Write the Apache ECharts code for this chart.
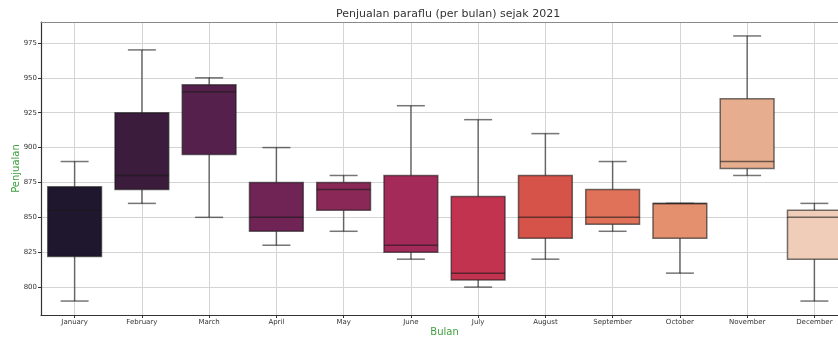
<!DOCTYPE html>
<html>
<head>
<meta charset="utf-8">
<script src="https://cdn.jsdelivr.net/npm/echarts@6/dist/echarts.min.js"></script>
<style>
html,body{margin:0;padding:0;background:#fff;}
#chart{width:838px;height:337px;}
</style>
</head>
<body>
<div id="chart"></div>
<script>
const months = ['January','February','March','April','May','June','July','August','September','October','November','December'];
const lowWhisker = [790, 860, 850, 830, 840, 820, 800, 820, 840, 810, 880, 790];
const q1Values   = [822, 870, 895, 840, 855, 825, 805, 835, 845, 835, 885, 820];
const medians    = [855, 880, 940, 850, 870, 830, 810, 850, 850, 860, 890, 850];
const q3Values   = [872, 925, 945, 875, 875, 880, 865, 880, 870, 860, 935, 855];
const highWhisker= [890, 970, 950, 900, 880, 930, 920, 910, 890, 860, 980, 860];
const yTicks = [800, 825, 850, 875, 900, 925, 950, 975];
const boxColors = ['#1e172e','#3b1c3d','#55214c','#6f2455','#8a2858','#a42a5a','#c1334f','#d6534a','#e0725a','#e48f6e','#e6ae8f','#efcdb8'];

const boxData = months.map((m, i) => [i, lowWhisker[i], q1Values[i], medians[i], q3Values[i], highWhisker[i]]);
const lineCol = 'rgba(25,25,25,0.6)';
const font = 'DejaVu Sans';

const chart = echarts.init(document.getElementById('chart'), null, {renderer: 'canvas'});
chart.setOption({
  animation: false,
  backgroundColor: '#ffffff',
  textStyle: {fontFamily: font},
  graphic: [{
    type: 'text', left: 336, top: 9,
    style: {text: 'Penjualan paraflu (per bulan) sejak 2021', font: '11px "DejaVu Sans"', fill: '#333'}
  }],
  grid: {left: 41, right: -10, top: 22, bottom: 22, containLabel: false, outerBoundsMode: 'none'},
  xAxis: [{
    type: 'category', data: months, boundaryGap: true,
    name: 'Bulan', nameLocation: 'middle', nameGap: 12, nameMoveOverlap: false,
    nameTextStyle: {color: '#3f9f3f', fontSize: 10, fontFamily: font},
    axisLine: {show: true, onZero: false, lineStyle: {color: '#333', width: 1.2}},
    axisTick: {show: true, alignWithLabel: true, length: 3, lineStyle: {color: '#333'}},
    axisLabel: {color: '#333', fontSize: 7, margin: 4, interval: 0, fontFamily: font},
    splitLine: {show: false}
  }, {
    type: 'value', position: 'top', min: -0.5, max: 11.5,
    axisLine: {show: true, onZero: false, lineStyle: {color: '#8a8a8a', width: 1.2}},
    axisTick: {show: false, customValues: months.map((m, i) => i)},
    axisLabel: {show: false, customValues: months.map((m, i) => i)},
    splitLine: {show: true, lineStyle: {color: '#d4d4d4', width: 1}}
  }],
  yAxis: {
    type: 'value', min: 780, max: 990,
    name: 'Penjualan', nameLocation: 'middle', nameGap: 20, nameMoveOverlap: false,
    nameTextStyle: {color: '#3f9f3f', fontSize: 10, fontFamily: font},
    axisLine: {show: true, onZero: false, lineStyle: {color: '#333', width: 1.2}},
    axisTick: {show: true, length: 3, customValues: yTicks, lineStyle: {color: '#333'}},
    axisLabel: {color: '#333', fontSize: 7, margin: 4, customValues: yTicks, fontFamily: font},
    splitLine: {show: true, lineStyle: {color: '#d4d4d4', width: 1}}
  },
  series: [{
    type: 'custom',
    xAxisIndex: 0, yAxisIndex: 0,
    data: boxData,
    encode: {x: 0, y: [1, 2, 3, 4, 5]},
    renderItem: function (params, api) {
      const i = api.value(0);
      const band = api.size([1, 0])[0];
      const w = band * 0.8;
      const cw = w * 0.52;
      const pLow = api.coord([i, api.value(1)]);
      const pQ1 = api.coord([i, api.value(2)]);
      const pMed = api.coord([i, api.value(3)]);
      const pQ3 = api.coord([i, api.value(4)]);
      const pHigh = api.coord([i, api.value(5)]);
      const x = pLow[0];
      const ls = {stroke: lineCol, lineWidth: 1.5, fill: null};
      return {
        type: 'group',
        children: [
          {type: 'line', shape: {x1: x, y1: pQ1[1], x2: x, y2: pLow[1]}, style: ls},
          {type: 'line', shape: {x1: x, y1: pQ3[1], x2: x, y2: pHigh[1]}, style: ls},
          {type: 'line', shape: {x1: x - cw / 2, y1: pLow[1], x2: x + cw / 2, y2: pLow[1]}, style: ls},
          {type: 'line', shape: {x1: x - cw / 2, y1: pHigh[1], x2: x + cw / 2, y2: pHigh[1]}, style: ls},
          {type: 'rect', shape: {x: x - w / 2, y: pQ3[1], width: w, height: pQ1[1] - pQ3[1]},
           style: {fill: boxColors[params.dataIndex], stroke: lineCol, lineWidth: 1.5}},
          {type: 'line', shape: {x1: x - w / 2, y1: pMed[1], x2: x + w / 2, y2: pMed[1]}, style: ls}
        ]
      };
    }
  }]
});
</script>
</body>
</html>
